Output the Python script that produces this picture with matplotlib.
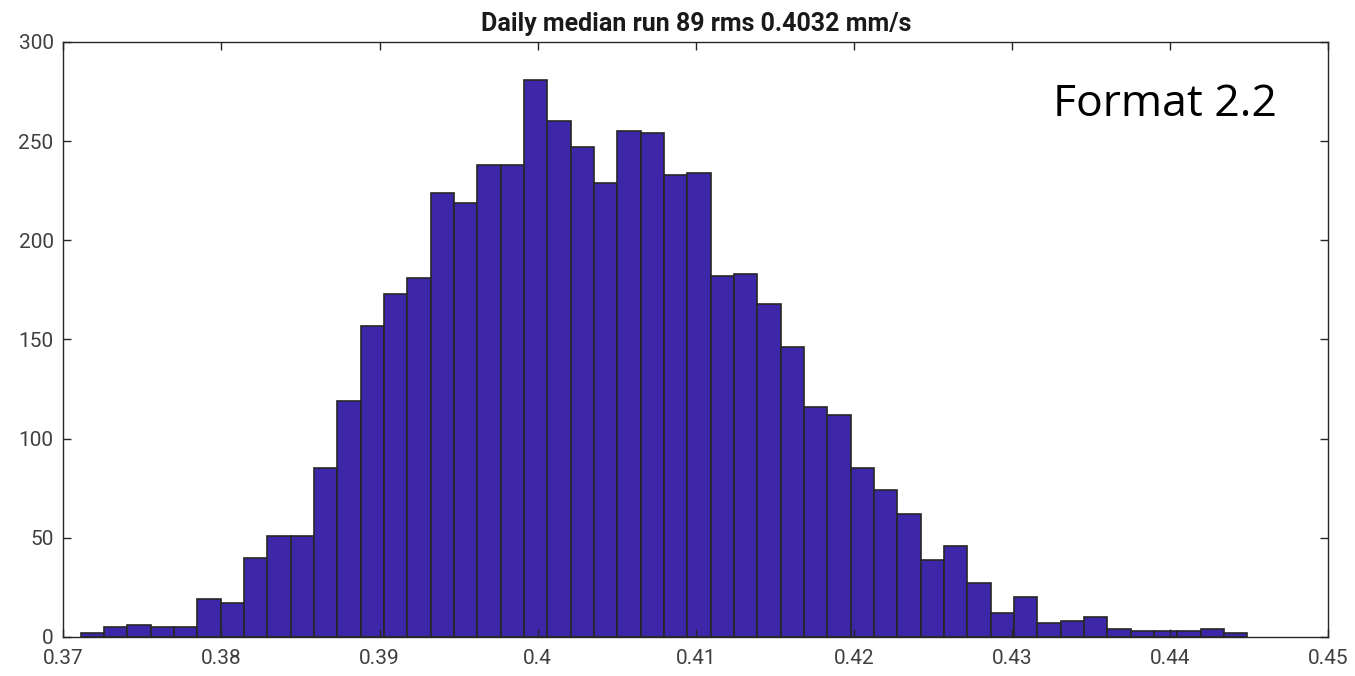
import numpy as np
import matplotlib
matplotlib.use("Agg")
import matplotlib.pyplot as plt

# Histogram data
bin_start = 0.37110
bin_width = 0.0014758
counts = [2, 5, 6, 5, 5, 19, 17, 40, 51, 51,
          85, 119, 157, 173, 181, 224, 219, 238, 238, 281,
          260, 247, 229, 255, 254, 233, 234, 182, 183, 168,
          146, 116, 112, 85, 74, 62, 39, 46, 27, 12,
          20, 7, 8, 10, 4, 3, 3, 3, 4, 2]
x_ticks = [0.37, 0.38, 0.39, 0.40, 0.41, 0.42, 0.43, 0.44, 0.45]
x_tick_labels = ["0.37", "0.38", "0.39", "0.4", "0.41", "0.42", "0.43", "0.44", "0.45"]
y_ticks = [0, 50, 100, 150, 200, 250, 300]
title = "Daily median run 89 rms 0.4032 mm/s"
annotation = "Format 2.2"

edges = bin_start + bin_width * np.arange(len(counts) + 1)

plt.rcParams['font.family'] = ['Roboto', 'DejaVu Sans']

fig = plt.figure(figsize=(13.55, 6.76), dpi=100)
ax = fig.add_axes([0.0467, 0.0577, 0.9335, 0.8802])

ax.bar(edges[:-1], counts, width=bin_width, align='edge', color='#3E26A8',
       edgecolor='#262626', linewidth=1.2)

ax.set_xlim(0.37, 0.45)
ax.set_ylim(0, 300)
ax.set_xticks(x_ticks)
ax.set_xticklabels(x_tick_labels)
ax.set_yticks(y_ticks)

for s in ax.spines.values():
    s.set_color('#262626')
    s.set_linewidth(1.0)
ax.tick_params(direction='in', top=True, right=True, length=6, width=1.0,
               colors='#262626', labelcolor='#404040', labelsize=15)
ax.tick_params(axis='x', pad=9)
ax.tick_params(axis='y', pad=7)

ax.set_title(title, fontsize=18, fontweight='bold', color='#1a1a1a', pad=8)

ax.text(0.9597, 0.895, annotation, transform=ax.transAxes, fontsize=32,
        family=['Open Sans', 'DejaVu Sans'], color='black', ha='right', va='center')

fig.savefig('out.png', dpi=100, facecolor='white')
